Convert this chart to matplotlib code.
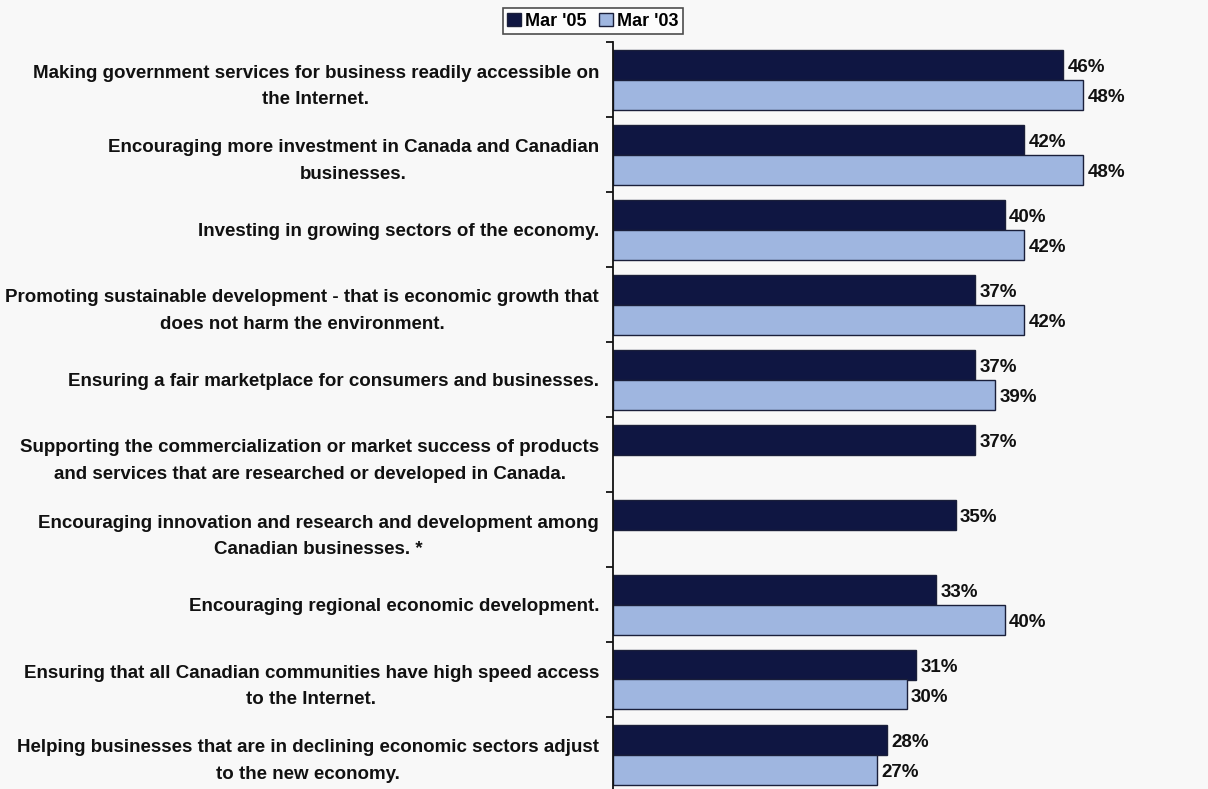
import matplotlib.pyplot as plt
from matplotlib.patches import Patch

categories = [
    "Making government services for business readily accessible on\nthe Internet.",
    "Encouraging more investment in Canada and Canadian\nbusinesses.",
    "Investing in growing sectors of the economy.",
    "Promoting sustainable development - that is economic growth that\ndoes not harm the environment.",
    "Ensuring a fair marketplace for consumers and businesses.",
    "Supporting the commercialization or market success of products\nand services that are researched or developed in Canada.",
    "Encouraging innovation and research and development among\nCanadian businesses. *",
    "Encouraging regional economic development.",
    "Ensuring that all Canadian communities have high speed access\nto the Internet.",
    "Helping businesses that are in declining economic sectors adjust\nto the new economy.",
]
mar05 = [46, 42, 40, 37, 37, 37, 35, 33, 31, 28]
mar03 = [48, 48, 42, 42, 39, None, None, 40, 30, 27]

c05 = '#0f1642'
c03 = '#9fb6e0'
edge = '#1a1f3a'
bg = '#f8f8f8'

plt.rcParams['font.family'] = ['Liberation Sans', 'DejaVu Sans']
plt.rcParams['font.weight'] = 'bold'

W, H = 1208, 789
fig = plt.figure(figsize=(W / 100, H / 100), dpi=100, facecolor=bg)
ax = fig.add_axes([613 / W, -3 / H, (W - 613) / W, 750 / H])
ax.set_facecolor(bg)

bh = 0.4
for i, (a, b) in enumerate(zip(mar05, mar03)):
    ax.barh(i - bh / 2, a, height=bh, color=c05, edgecolor=edge, linewidth=1)
    ax.text(a + 0.45, i - bh / 2 + 0.04, f'{a}%', va='center', ha='left',
            fontsize=13.5, fontweight='bold', color='#111111')
    if b is not None:
        ax.barh(i + bh / 2, b, height=bh, color=c03, edgecolor=edge, linewidth=1)
        ax.text(b + 0.45, i + bh / 2 + 0.04, f'{b}%', va='center', ha='left',
                fontsize=13.5, fontweight='bold', color='#111111')

ax.set_xlim(0, (W - 613) / 9.79)
ax.set_ylim(9.5, -0.5)

# category labels at group centres, tick marks at group boundaries
ax.set_yticks(range(len(categories)))
ax.set_yticklabels(categories, fontsize=13.5, fontweight='bold', multialignment='center',
                   color='#111111', linespacing=1.75)
ax.tick_params(axis='y', which='major', length=0, pad=10)
ax.set_yticks([i - 0.5 for i in range(len(categories) + 1)], minor=True)
ax.tick_params(axis='y', which='minor', length=5, width=1.2, direction='out')
ax.set_xticks([])

for s in ['top', 'right', 'bottom']:
    ax.spines[s].set_visible(False)
ax.spines['left'].set_linewidth(1.3)
ax.spines['left'].set_color('#111111')

handles = [Patch(facecolor=c05, edgecolor=edge, label="Mar '05"),
           Patch(facecolor=c03, edgecolor=edge, label="Mar '03")]
leg = fig.legend(handles=handles, loc='center', bbox_to_anchor=(593 / W, 1 - 21 / H),
                 ncol=2, fontsize=13, frameon=True, fancybox=False,
                 handlelength=0.75, handleheight=0.75, handletextpad=0.25,
                 columnspacing=0.7, borderpad=0.25, borderaxespad=0)
leg.get_frame().set_edgecolor('#222222')
leg.get_frame().set_linewidth(1.2)
leg.get_frame().set_facecolor('white')

fig.savefig('out.png', dpi=100, facecolor=bg)
